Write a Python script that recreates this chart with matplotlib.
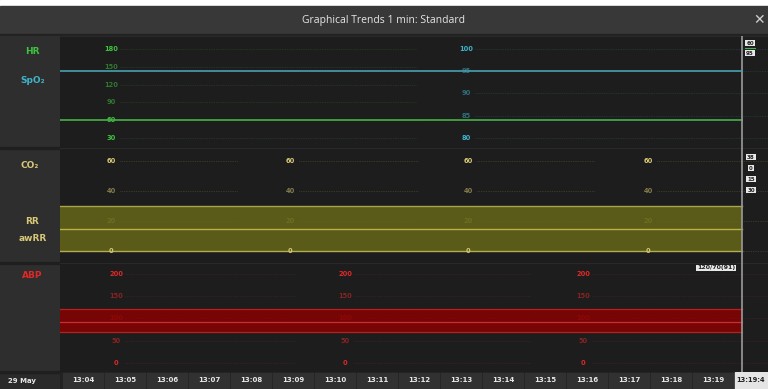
import matplotlib
matplotlib.use("Agg")
import matplotlib.pyplot as plt
from matplotlib.patches import Rectangle

# ---- data ----
trend_times = ["13:03:27", "13:19:41"]      # start of trend window, cursor
hr = [60, 60]
spo2 = [95, 95]
rr_high = [30, 30]
rr_low = [0, 0]
awrr = [15, 15]
abp_sys = [120, 120]
abp_dia = [70, 70]
abp_mean = [91, 91]

hr_ticks = [180, 150, 120, 90, 60, 30]
spo2_ticks = [100, 95, 90, 85, 80]
co2_ticks = [60, 40, 20, 0]
abp_ticks = [200, 150, 100, 50, 0]
time_labels = ["13:04", "13:05", "13:06", "13:07", "13:08", "13:09", "13:10", "13:11",
               "13:12", "13:13", "13:14", "13:15", "13:16", "13:17", "13:18", "13:19"]
right_values_1 = ["60", "95"]
right_values_2 = ["38", "0", "15", "30"]
abp_readout = "120/70(91)"


def to_min(s):
    h, m, sec = [int(v) for v in s.split(":")]
    return (h - 13) * 60 + m + sec / 60.0


t = [to_min(s) for s in trend_times]
cursor = t[-1]

W, H = 768, 389
PX_PER_MIN = 42.0
X0_MIN = 4 - 23 / PX_PER_MIN          # minute at left edge of plot (x=60)
X1_MIN = 4 + 685 / PX_PER_MIN         # minute at right edge (x=768)


def rect(x0, y0, x1, y1):
    return [x0 / W, 1 - y1 / H, (x1 - x0) / W, (y1 - y0) / H]


def pxmin(px):
    return X0_MIN + (px - 60) / PX_PER_MIN


PLOT_BG = "#1d1d1d"
SIDE_BG = "#2e2e2e"
GREEN = "#3ec43e"
CYAN = "#3fb3c9"
TAN = "#d8c878"
RED = "#e02828"

fig = plt.figure(figsize=(W / 100, H / 100), dpi=100)
fig.patch.set_facecolor(PLOT_BG)

# background / chrome in pixel coordinates
bg = fig.add_axes([0, 0, 1, 1])
bg.set_xlim(0, W)
bg.set_ylim(H, 0)
bg.axis("off")
bg.add_patch(Rectangle((0, 0), W, 6, color="white"))
bg.add_patch(Rectangle((0, 6), W, 29, color="#383838"))
bg.add_patch(Rectangle((0, 34), W, 2, color="#222222"))
bg.add_patch(Rectangle((0, 36), 60, 336, color=SIDE_BG))
bg.add_patch(Rectangle((0, 372), 60, 17, color="#2a2a2a"))
for yy in [148, 263, 372]:
    bg.add_patch(Rectangle((0, yy - 1), 60, 2, color="#1f1f1f"))
bg.text(384, 20, "Graphical Trends 1 min: Standard", color="#e6e6e6",
        fontsize=7.5, family="Open Sans", ha="center", va="center")
bg.text(759, 20, "\u2715", color="#d0d0d0", fontsize=10, ha="center", va="center")

side = dict(fontsize=6.5, fontweight="bold", ha="center", va="center")
bg.text(32, 51, "HR", color=GREEN, **side)
bg.text(33, 80, "SpO\u2082", color=CYAN, **side)
bg.text(30, 165, "CO\u2082", color=TAN, **side)
bg.text(32, 221, "RR", color=TAN, **side)
bg.text(33, 238, "awRR", color=TAN, **side)
bg.text(32, 276, "ABP", color=RED, **side)
bg.text(22, 381, "29 May", color="#e8e8e8", fontsize=5, fontweight="bold",
        ha="center", va="center")


def panel(y0, y1, ylim):
    ax = fig.add_axes(rect(60, y0, W, y1))
    ax.set_facecolor(PLOT_BG)
    ax.set_xlim(X0_MIN, X1_MIN)
    ax.set_ylim(*ylim)
    ax.set_xticks([])
    ax.set_yticks([])
    for s in ax.spines.values():
        s.set_visible(False)
    ax.axhline(ylim[1], color="#2c2c2c", lw=1.2)
    return ax


def scale(ax, xs_px, ticks, color, seg_ends_px, dim=(), on_top=()):
    for i, xp in enumerate(xs_px):
        for v in ticks:
            a = 0.55 if v in dim else 1.0
            z = 5 if v in on_top else 1
            ax.text(pxmin(xp), v, str(v), color=color, fontsize=4.8, fontweight="bold",
                    ha="center", va="center", zorder=z, alpha=a)
            ax.plot([pxmin(xp + 9), pxmin(seg_ends_px[i])], [v, v], color=color,
                    lw=0.5, ls=(0, (1, 1.5)), alpha=0.3, zorder=1)


# panel 1 : HR / SpO2
ax1 = panel(36, 148, (13.1, 201.9))
ax1b = ax1.twinx()
ax1b.set_ylim(77.75, 102.9)
ax1b.set_yticks([])
for s in ax1b.spines.values():
    s.set_visible(False)
scale(ax1, [111], hr_ticks, GREEN, [417], dim=(150, 120, 90))
scale(ax1b, [466], spo2_ticks, CYAN, [768], dim=(95, 90, 85))
ax1.plot(t, hr, color="#46b046", lw=1.2, zorder=3)
ax1b.plot(t, spo2, color="#4a9fb0", lw=1.2, zorder=3)

# panel 2 : CO2 / RR / awRR
ax2 = panel(148, 263, (-8.0, 68.7))
scale(ax2, [111, 290, 468, 648], co2_ticks, TAN, [238, 418, 594, 768],
      dim=(40, 20), on_top=(0,))
ax2.fill_between(t, rr_low, rr_high, color="#6a6a18", alpha=0.8, zorder=2, lw=0)
ax2.plot(t, rr_high, color="#a8a648", lw=1.0, zorder=3)
ax2.plot(t, rr_low, color="#b0ae50", lw=1.0, zorder=3)
ax2.plot(t, awrr, color="#b5b445", lw=1.0, zorder=3)

# panel 3 : ABP
ax3 = panel(263, 372, (-21.0, 224.8))
scale(ax3, [116, 345, 583], abp_ticks, RED, [295, 530, 768], dim=(150, 100, 50))
ax3.fill_between(t, abp_dia, abp_sys, color="#900000", alpha=0.8, zorder=2, lw=0)
ax3.plot(t, abp_sys, color="#b82020", lw=0.9, zorder=3)
ax3.plot(t, abp_dia, color="#b82020", lw=0.9, zorder=3)
ax3.plot(t, abp_mean, color="#c83030", lw=0.9, zorder=3)

# cursor line
for ax in (ax1, ax2, ax3):
    ax.axvline(cursor, color="#9a9a9a", lw=1.2, zorder=6)

# time axis row
axt = fig.add_axes(rect(60, 372, W, H))
axt.set_facecolor("#222222")
axt.set_xlim(X0_MIN, X1_MIN)
axt.set_ylim(0, 1)
axt.axis("off")
axt.add_patch(Rectangle((X0_MIN, 0), X1_MIN - X0_MIN, 1, color="#222222"))
for lab in time_labels:
    m = to_min(lab + ":00")
    axt.add_patch(Rectangle((m - 0.47, 0.06), 0.94, 0.9, color="#313131"))
    axt.text(m, 0.5, lab, color="#e8e8e8", fontsize=5, fontweight="bold",
             ha="center", va="center")
axt.add_patch(Rectangle((pxmin(735), 0.0), X1_MIN - pxmin(735), 1, color="#e4e4e4"))
axt.text(pxmin(736), 0.5, trend_times[-1][:7], color="#202020", fontsize=4.8,
         fontweight="bold", ha="left", va="center")

# readout boxes on top of everything
ov = fig.add_axes([0, 0, 1, 1])
ov.set_xlim(0, W)
ov.set_ylim(H, 0)
ov.axis("off")
ov.patch.set_alpha(0)
box = dict(boxstyle="square,pad=0.15", fc="#e8e8e8", ec="none")
for i, v in enumerate(right_values_1):
    ov.text(750, 43 + i * 10, v, color="#222222", fontsize=4, fontweight="bold",
            ha="center", va="center", bbox=box)
ov.plot([745, 755], [47.5, 47.5], color="#46b046", lw=0.8)
for i, v in enumerate(right_values_2):
    ov.text(751, 157 + i * 11, v, color="#222222", fontsize=4, fontweight="bold",
            ha="center", va="center", bbox=box)
ov.text(716, 268, abp_readout, color="#222222", fontsize=4.5, fontweight="bold",
        ha="center", va="center", bbox=box)

fig.savefig("out.png", dpi=100, facecolor=fig.get_facecolor())
